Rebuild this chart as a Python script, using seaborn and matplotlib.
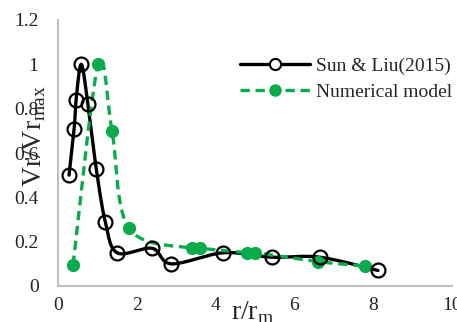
import numpy as np
import pandas as pd
import matplotlib
matplotlib.use("Agg")
import matplotlib.pyplot as plt
import seaborn as sns
from matplotlib.lines import Line2D

sun_x = [0.28, 0.41, 0.46, 0.59, 0.76, 0.97, 1.2, 1.5, 2.39, 2.88, 4.2, 5.42, 6.64, 8.12]
sun_y = [0.50, 0.71, 0.84, 1.00, 0.82, 0.53, 0.29, 0.15, 0.17, 0.10, 0.15, 0.13, 0.13, 0.07]
num_x = [0.38, 1.02, 1.37, 1.80, 3.40, 3.60, 4.80, 5.00, 6.60, 7.80]
num_y = [0.095, 1.00, 0.70, 0.26, 0.17, 0.17, 0.15, 0.15, 0.11, 0.09]
labels = ["Sun & Liu(2015)", "Numerical model"]

def smooth(x, y, n=20):
    # Catmull-Rom style smoothing similar to Excel smoothed lines
    x = np.asarray(x, float); y = np.asarray(y, float)
    P = np.column_stack([x, y])
    P = np.vstack([P[0], P, P[-1]])
    out = []
    for i in range(1, len(P) - 2):
        p0, p1, p2, p3 = P[i - 1], P[i], P[i + 1], P[i + 2]
        t = np.linspace(0, 1, n)[:, None]
        c1 = p1 + (p2 - p0) / 6
        c2 = p2 - (p3 - p1) / 6
        pts = ((1 - t) ** 3) * p1 + 3 * ((1 - t) ** 2) * t * c1 + 3 * (1 - t) * t ** 2 * c2 + t ** 3 * p2
        out.append(pts if i == 1 else pts[1:])
    out = np.vstack(out)
    return out[:, 0], out[:, 1]

sns.set_theme(style="white")
plt.rcParams['font.family'] = ['Liberation Serif', 'DejaVu Serif']
plt.rcParams['mathtext.fontset'] = 'custom'
plt.rcParams['mathtext.rm'] = 'Liberation Serif'

fig = plt.figure(figsize=(4.57, 3.22), dpi=100)
ax = fig.add_axes([58 / 457, 36 / 322, 394 / 457, 266 / 322])

green = "#0aab4a"
sx, sy = smooth(sun_x, sun_y)
nx, ny = smooth(num_x, num_y)
d1 = pd.DataFrame({"x": sx, "y": sy})
d2 = pd.DataFrame({"x": nx, "y": ny})
sns.lineplot(data=d1, x="x", y="y", ax=ax, color="black", lw=2.4, sort=False, estimator=None)
sns.lineplot(data=d2, x="x", y="y", ax=ax, color=green, lw=2.4, sort=False, estimator=None,
             linestyle=(0, (2.8, 1.7)))
ax.plot(sun_x, sun_y, "o", ms=10, mfc="none", mec="black", mew=1.6, zorder=4)
ax.plot(num_x, num_y, "o", ms=8.5, color=green, zorder=3)

ax.set_xlim(0, 10)
ax.set_ylim(0, 1.2)
ax.set_xticks([0, 2, 4, 6, 8, 10])
ax.set_xticklabels(["0", "2", "4", "6", "8", "10"])
ax.set_yticks([0, 0.2, 0.4, 0.6, 0.8, 1.0, 1.2])
ax.set_yticklabels(["0", "0.2", "0.4", "0.6", "0.8", "1", "1.2"])
ax.tick_params(axis="both", length=0, labelsize=14, colors="#222222")
ax.tick_params(axis="y", pad=14)
ax.tick_params(axis="x", pad=8)
for s in ["top", "right"]:
    ax.spines[s].set_visible(False)
for s in ["left", "bottom"]:
    ax.spines[s].set_color("#bfbfbf")
    ax.spines[s].set_linewidth(1.5)

ax.set_xlabel("r/r$_{\\mathrm{m}}$", fontsize=20)
ax.xaxis.set_label_coords(0.495, -0.05)
ax.set_ylabel("Vr/Vr$_{\\mathrm{max}}$", fontsize=20)
ax.yaxis.set_label_coords(-0.025, 0.565)

handles = [
    Line2D([0], [0], color="black", lw=2.4, marker="o", ms=8, mfc="white", mec="black", mew=1.5),
    Line2D([0], [0], color=green, lw=2.4, linestyle=(0, (2.8, 1.7)), marker="o", ms=8, mfc=green, mec=green),
]
leg = ax.legend(handles, labels, loc="upper left", bbox_to_anchor=(0.462, 0.86), frameon=False,
                fontsize=14, handlelength=3.6, handletextpad=0.3, labelspacing=0.42, borderaxespad=0,
                borderpad=0)

fig.savefig("out.png", dpi=100)
